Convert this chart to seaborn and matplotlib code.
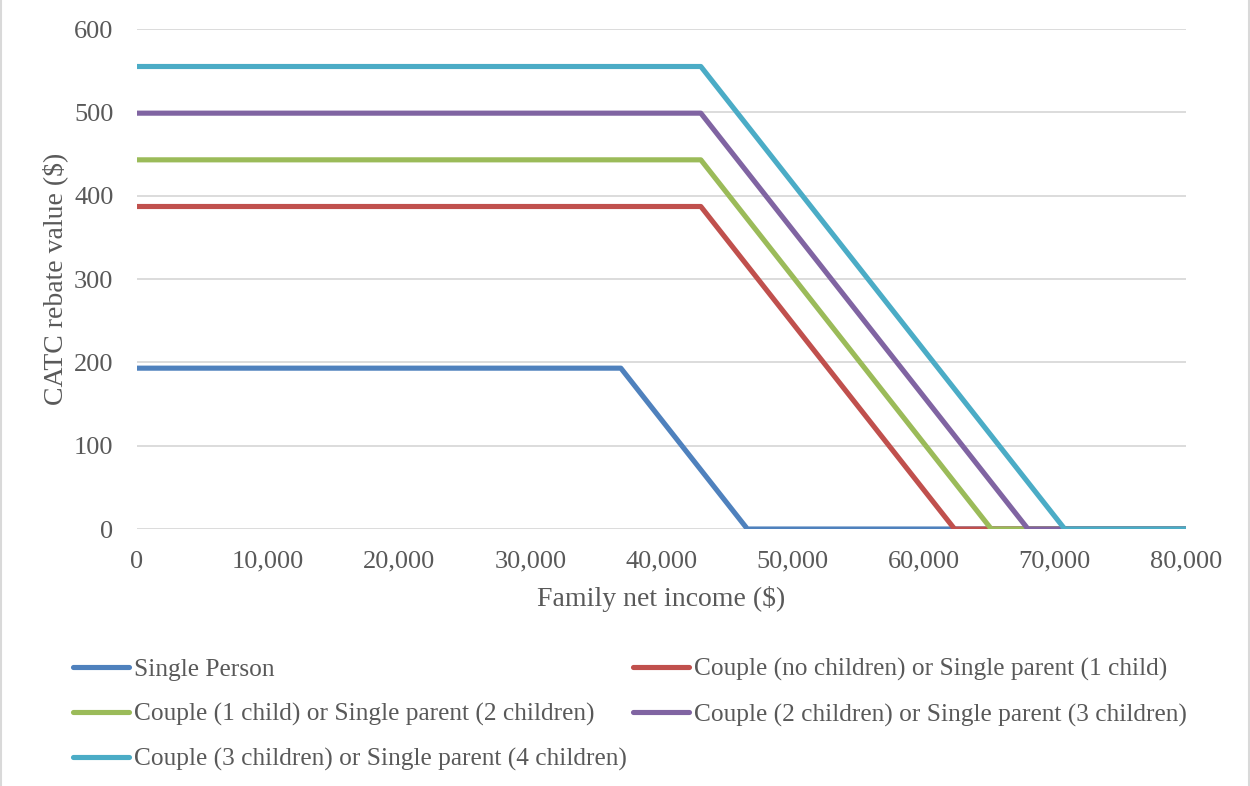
import matplotlib
matplotlib.use("Agg")
import matplotlib.pyplot as plt
from matplotlib.lines import Line2D
import seaborn as sns
import pandas as pd

# Household types and their rebate schedule
groups = [
    "Single Person",
    "Couple (no children) or Single parent (1 child)",
    "Couple (1 child) or Single parent (2 children)",
    "Couple (2 children) or Single parent (3 children)",
    "Couple (3 children) or Single parent (4 children)",
]
max_rebate = [193, 387, 443, 499, 555]
taper_start = [36900, 43000, 43000, 43000, 43000]
cutoff_income = [46550, 62350, 65150, 67950, 70750]
income_end = 80000

colors = ["#4F81BD", "#C0504D", "#9BBB59", "#8064A2", "#4BACC6"]

rows = []
for g, m, s, c in zip(groups, max_rebate, taper_start, cutoff_income):
    for x, y in [(0, m), (s, m), (c, 0), (income_end, 0)]:
        rows.append({"group": g, "income": x, "rebate": y})
df = pd.DataFrame(rows)

sns.set_theme(style="white")
plt.rcParams["font.family"] = ["Liberation Serif", "DejaVu Serif"]
text_color = "#595959"

fig = plt.figure(figsize=(12.5, 7.86), dpi=100)
ax = fig.add_axes([137 / 1250, 1 - 529 / 786, (1186 - 137) / 1250, (529 - 29) / 786])

sns.lineplot(data=df, x="income", y="rebate", hue="group", hue_order=groups,
             palette=colors, linewidth=3.7, ax=ax, legend=False, sort=False,
             estimator=None)

ax.set_xlim(0, income_end)
ax.set_ylim(0, 600)
ax.set_xticks(range(0, 80001, 10000))
ax.set_xticklabels([f"{v:,}" for v in range(0, 80001, 10000)])
ax.set_yticks(range(0, 601, 100))
ax.yaxis.grid(True, color="#D9D9D9", linewidth=1.3)
ax.set_axisbelow(True)
for sp in ax.spines.values():
    sp.set_visible(False)
ax.tick_params(axis="both", length=0, labelsize=19, labelcolor=text_color)
ax.tick_params(axis="x", pad=15.5)
ax.tick_params(axis="y", pad=17)
ax.set_xlabel("Family net income ($)", fontsize=20, color=text_color, labelpad=10)
ax.set_ylabel("CATC rebate value ($)", fontsize=20, color=text_color, labelpad=4)

handles = [Line2D([0], [0], color=c, linewidth=3.7, solid_capstyle="round") for c in colors]
order = [0, 2, 4, 1, 3]
fig.legend([handles[i] for i in order], [groups[i] for i in order],
           loc="upper left", bbox_to_anchor=(73 / 1250, 1 - 658 / 786),
           ncol=2, frameon=False, fontsize=18.3, labelcolor=text_color,
           handlelength=2.2, handletextpad=0.2, columnspacing=0.25,
           labelspacing=0.87, borderaxespad=0, borderpad=0)

# light frame lines at the left and right edges of the figure
for xe in (0.001, 0.999):
    fig.add_artist(Line2D([xe, xe], [0, 1], transform=fig.transFigure,
                          color="#D9D9D9", linewidth=1.5))

fig.savefig("out.png", dpi=100)
